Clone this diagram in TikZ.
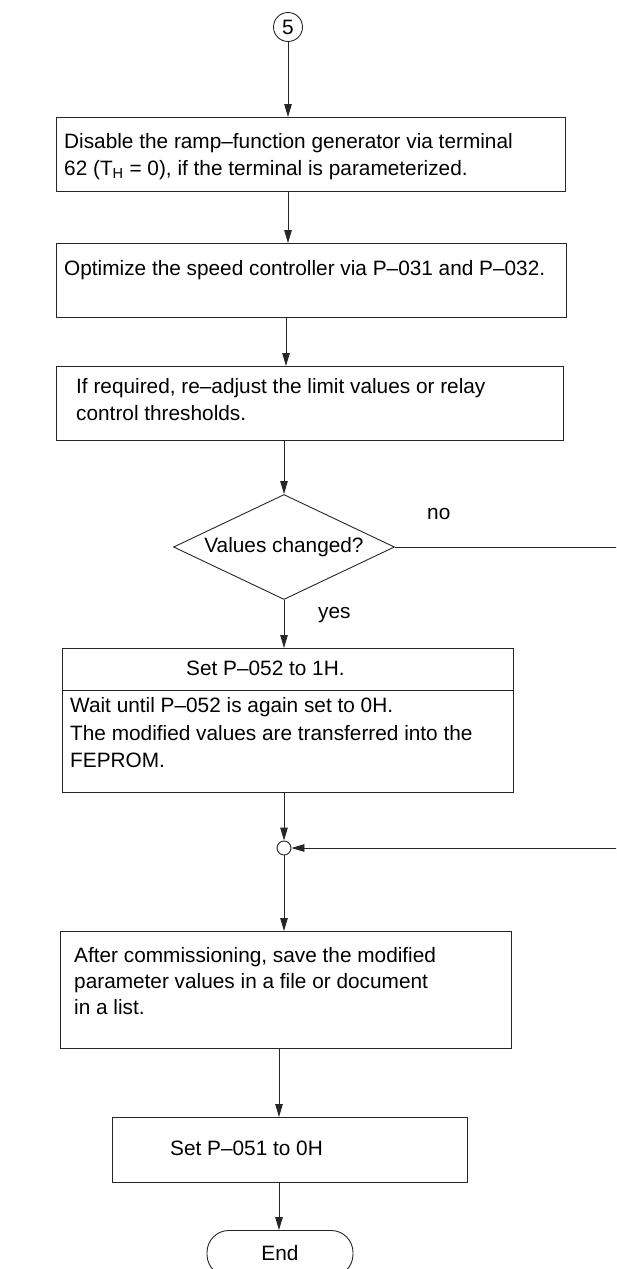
\documentclass[tikz,border=0pt]{standalone}
\usepackage{fontspec}
\setmainfont{Liberation Sans}
\usetikzlibrary{arrows.meta,shapes.geometric}
\begin{document}
\begin{tikzpicture}[x=1pt,y=-1pt,
  ln/.style={draw=black!85, line width=0.9pt},
  box/.style={ln, rectangle, inner sep=0pt, anchor=north west},
  txt/.style={anchor=base west, inner sep=0pt, font=\fontsize{20.8}{25}\selectfont},
  arr/.style={ln, -{Triangle[length=13pt,width=7.5pt]}}]
\useasboundingbox (0,0) rectangle (616,1269);
\clip (0,0) rectangle (616,1269);
% connector circle
\node[ln, circle, minimum size=29pt, inner sep=0pt, font=\fontsize{20.8}{25}\selectfont] (c5) at (288,27) {5};
% box 1
\node[box, minimum width=509pt, minimum height=74pt] (b1) at (56,117) {};
\node[txt] (t1a) at (64,148) {Disable the ramp--function generator via terminal};
\node[txt] (t1b) at (64,175) {62 (T\textsubscript{H} = 0), if the terminal is parameterized.};
% box 2
\node[box, minimum width=510pt, minimum height=74pt] (b2) at (56,243) {};
\node[txt] (t2a) at (64,275) {Optimize the speed controller via P--031 and P--032.};
% box 3
\node[box, minimum width=507pt, minimum height=74pt] (b3) at (56,366) {};
\node[txt] (t3a) at (76,393) {If required, re--adjust the limit values or relay};
\node[txt] (t3b) at (76,420) {control thresholds.};
% decision
\node[ln, diamond, aspect=2.1, minimum width=221pt, minimum height=105pt, inner sep=0pt,
      font=\fontsize{20.8}{25}\selectfont] (d) at (284,547) {Values changed?};
\node[txt] (no) at (427,519) {no};
\node[txt] (yes) at (318,618) {yes};
% box 4 (two parts)
\node[box, minimum width=451pt, minimum height=42pt] (b4a) at (62,648) {};
\node[box, minimum width=451pt, minimum height=102pt] (b4b) at (62,690) {};
\node[txt] (t4a) at (186,675) {Set P--052 to 1H.};
\node[txt] (t4b) at (70,712) {Wait until P--052 is again set to 0H.};
\node[txt] (t4c) at (70,740) {The modified values are transferred into the};
\node[txt] (t4d) at (70,767) {FEPROM.};
% junction
\node[ln, circle, minimum size=14pt, inner sep=0pt] (j) at (284,848) {};
% box 5
\node[box, minimum width=451pt, minimum height=117pt] (b5) at (60,931) {};
\node[txt] (t5a) at (74,962) {After commissioning, save the modified};
\node[txt] (t5b) at (74,988) {parameter values in a file or document};
\node[txt] (t5c) at (74,1014) {in a list.};
% box 6
\node[box, minimum width=355pt, minimum height=65pt] (b6) at (112,1117) {};
\node[txt] (t6a) at (170,1155) {Set P--051 to 0H};
% end
\node[ln, rectangle, rounded corners=22pt, minimum width=146pt, minimum height=46pt, inner sep=0pt,
      anchor=north, font=\fontsize{20.8}{25}\selectfont] (end) at (280,1230) {End};
% free ends of the loop
\coordinate (loopout) at (620,547);
\coordinate (loopin) at (620,848);
% connectors
\draw[arr] (c5.south) -- (c5.south |- b1.north);
\draw[arr] (b1.south -| c5.center) -- (b2.north -| c5.center);
\draw[arr] (b2.south -| 286,0) -- (b3.north -| 286,0);
\draw[arr] (b3.south -| d.north) -- (d.north);
\draw[arr] (d.south) -- (d.south |- b4a.north);
\draw[arr] (b4b.south -| j.center) -- (j.north);
\draw[ln] (d.east) -- (d.east -| loopout);
\draw[arr] (loopin) -- (j.east);
\draw[arr] (j.south) -- (j.south |- b5.north);
\draw[arr] (b5.south -| 279,0) -- (b6.north -| 279,0);
\draw[arr] (b6.south -| 279,0) -- (end.north -| 279,0);
\end{tikzpicture}
\end{document}
